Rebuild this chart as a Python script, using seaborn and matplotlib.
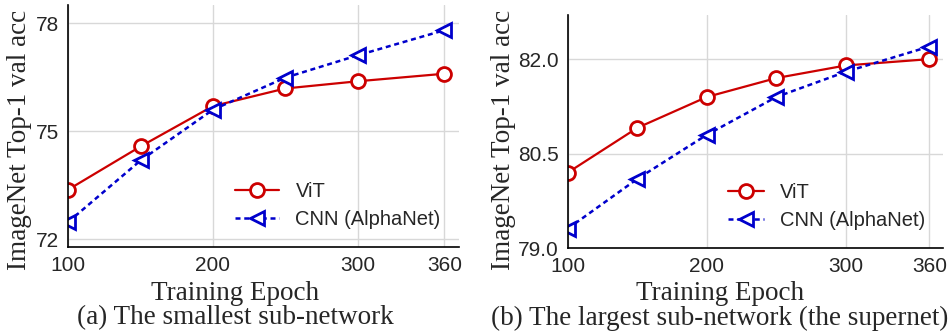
import pandas as pd
import seaborn as sns
import matplotlib.pyplot as plt

# epochs and top-1 accuracies
epochs = [100, 150, 200, 250, 300, 360]
small_vit = [73.38, 74.58, 75.70, 76.19, 76.39, 76.60]
small_cnn = [72.48, 74.19, 75.60, 76.49, 77.11, 77.81]
large_vit = [80.20, 80.91, 81.40, 81.70, 81.90, 82.00]
large_cnn = [79.31, 80.10, 80.80, 81.40, 81.80, 82.20]

xticks = [100, 200, 300, 360]
small_yticks = [72, 75, 78]
large_yticks = [79.0, 80.5, 82.0]
captions = ['(a) The smallest sub-network', '(b) The largest sub-network (the supernet)']
names = ['ViT', 'CNN (AlphaNet)']

sns.set_style('whitegrid')
plt.rcParams['font.family'] = ['Liberation Sans', 'DejaVu Sans']
serif = ['Liberation Serif', 'DejaVu Serif']

W, H = 948, 334
fig = plt.figure(figsize=(W / 100, H / 100), dpi=100)
ax1 = fig.add_axes([0.072, 0.260, 0.412, 0.725])
ax2 = fig.add_axes([0.599, 0.257, 0.396, 0.698])


def draw(ax, vit, cnn, yticks, ylim, fmt, caption, cx, ylx, hl):
    df = pd.DataFrame({'epoch': epochs * 2, 'acc': vit + cnn,
                       'model': [names[0]] * len(epochs) + [names[1]] * len(epochs)})
    sns.lineplot(data=df[df.model == names[0]], x='epoch', y='acc', ax=ax,
                 color='#cc0000', lw=1.6, marker='o', markersize=10,
                 markerfacecolor='white', markeredgecolor='#cc0000', markeredgewidth=2,
                 label=names[0])
    sns.lineplot(data=df[df.model == names[1]], x='epoch', y='acc', ax=ax,
                 color='#0000cc', lw=1.8, marker='<', markersize=10,
                 markerfacecolor='white', markeredgecolor='#0000cc', markeredgewidth=2,
                 linestyle=(0, (2, 1.5)), label=names[1])
    ax.set_xlim(100, 370)
    ax.set_ylim(*ylim)
    ax.set_xticks(xticks)
    ax.set_yticks(yticks)
    ax.set_yticklabels([fmt.format(v) for v in yticks])
    ax.tick_params(labelsize=15, pad=3)
    ax.grid(color='#d8d8d8', lw=1)
    for s in ['top', 'right']:
        ax.spines[s].set_visible(False)
    for s in ['left', 'bottom']:
        ax.spines[s].set_color('black')
        ax.spines[s].set_linewidth(1.2)
    ax.set_xlabel('')
    ax.set_ylabel('')
    ax.legend(loc='lower right', frameon=False, fontsize=14.5, handlelength=hl,
              bbox_to_anchor=(1.0, 0.0), labelspacing=0.45)
    fig.text(ylx / W, 1 - 140 / H, 'ImageNet Top-1 val acc', ha='center', va='center',
             rotation=90, family=serif, fontsize=19.5)
    fig.text(cx / W, 1 - 293 / H, 'Training Epoch', ha='center', va='center',
             family=serif, fontsize=19.5)
    fig.text(cx / W, 1 - 318 / H, caption, ha='center', va='center',
             family=serif, fontsize=19.5)


draw(ax1, small_vit, small_cnn, small_yticks, (71.78, 78.51), '{:.0f}', captions[0], 235, 20, 2.2)
draw(ax2, large_vit, large_cnn, large_yticks, (79.0, 82.7), '{:.1f}', captions[1], 720, 503, 1.8)

fig.savefig('out.png', dpi=100)
